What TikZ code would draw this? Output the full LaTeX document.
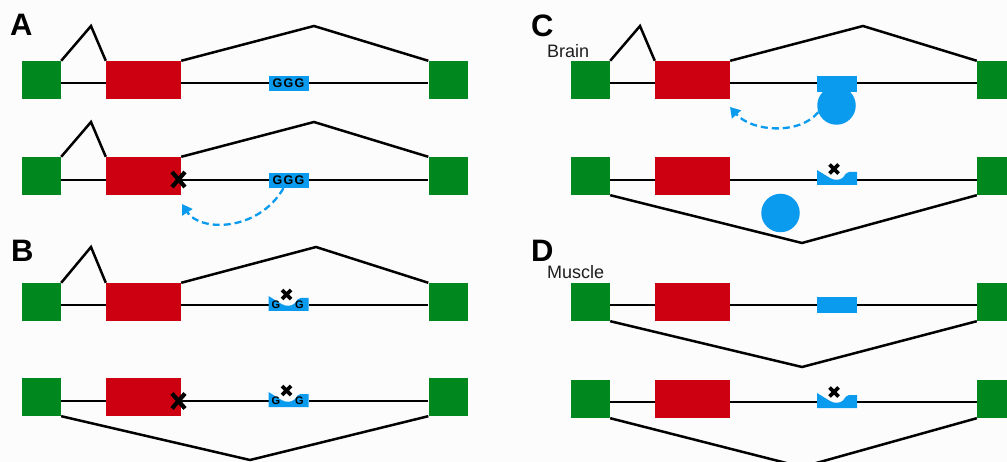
\documentclass[tikz,border=0pt]{standalone}
\usepackage{fontspec}
\setsansfont{Liberation Sans}
\usetikzlibrary{arrows.meta}
\definecolor{exg}{RGB}{0,135,30}
\definecolor{exr}{RGB}{204,0,16}
\definecolor{exb}{RGB}{10,155,238}
\definecolor{bgc}{RGB}{252,252,252}
\definecolor{txt}{RGB}{30,30,30}
\tikzset{
  gex/.style={rectangle, fill=exg, inner sep=0pt, minimum width=39pt, minimum height=38pt},
  rex/.style={rectangle, fill=exr, inner sep=0pt, minimum width=75pt, minimum height=38pt},
  intr/.style={draw=black, line width=2.5pt},
  spl/.style={draw=black, line width=2.5pt, line join=miter},
  bbox/.style={rectangle, fill=exb, inner sep=0pt, minimum width=40pt, minimum height=15pt},
  ggg/.style={font=\sffamily\bfseries\fontsize{12.5}{12.5}\selectfont, text=black},
  sg/.style={font=\sffamily\bfseries\fontsize{11}{11}\selectfont, text=black, inner sep=0pt},
  bcirc/.style={circle, fill=exb, inner sep=0pt, minimum size=38.5pt},
  arr/.style={draw=exb, line width=2.3pt, dash pattern=on 7pt off 4pt,
     -{Triangle[length=10pt,width=12pt]}},
  plab/.style={font=\sffamily\bfseries\fontsize{31}{31}\selectfont, inner sep=0pt, anchor=base west},
  tlab/.style={font=\sffamily\fontsize{18}{18}\selectfont, text=txt, inner sep=0pt, anchor=base west},
  bigx/.pic={\draw[line width=4.2pt] (-6.5,-7.5) -- (6.5,7.5) (-6.5,7.5) -- (6.5,-7.5);},
  smallx/.pic={\draw[white,line width=6pt] (-4.5,-4.5) -- (4.5,4.5) (-4.5,4.5) -- (4.5,-4.5);
               \draw[line width=3.8pt] (-4.5,-4.5) -- (4.5,4.5) (-4.5,4.5) -- (4.5,-4.5);},
  notchshape/.pic={\fill[bgc] (-20,0) rectangle (20,15);
               \fill[exb] (-20,15) -- (-20,0) -- (-7,8)
               .. controls (-3,10.5) and (3,10.5) .. (6,7.5) -- (9,3.5) -- (12,2) -- (20,2) -- (20,15) -- cycle;}
}
\begin{document}
\begin{tikzpicture}[x=1pt,y=-1pt]
\useasboundingbox (0,0) rectangle (1007,462);
\fill[bgc] (0,0) rectangle (1007,462);
\clip (0,0) rectangle (1007,462);

% ---------------- Panel A ----------------
\node[plab] (labA) at (10,36) {A};
% row A1
\node[gex] (a1g1) at (41.5,80) {};
\node[rex] (a1r) at (143.5,80) {};
\node[gex] (a1g2) at (448,80) {};
\coordinate (a1y) at (0,83);
\draw[intr] (a1g1.east |- a1y) -- (a1r.west |- a1y);
\draw[intr] (a1r.east |- a1y) -- (a1g2.west |- a1y);
\node[bbox, ggg] (a1b) at (288.5,83.5) {G\hspace{1.2pt}G\hspace{1.2pt}G};
\draw[spl] (a1g1.north east) -- (91,26) -- (a1r.north west);
\draw[spl] (a1r.north east) -- (314,26) -- (a1g2.north west);
% row A2
\node[gex] (a2g1) at (41.5,176) {};
\node[rex] (a2r) at (143.5,176) {};
\node[gex] (a2g2) at (448,176) {};
\coordinate (a2y) at (0,180);
\draw[intr] (a2g1.east |- a2y) -- (a2r.west |- a2y);
\draw[intr] (a2r.east |- a2y) -- (a2g2.west |- a2y);
\node[bbox, ggg] (a2b) at (288.5,180.5) {G\hspace{1.2pt}G\hspace{1.2pt}G};
\draw[spl] (a2g1.north east) -- (91,122) -- (a2r.north west);
\draw[spl] (a2r.north east) -- (314,122) -- (a2g2.north west);
\pic at (178.5,179.5) {bigx};
\coordinate (a2t) at (182,204);
\draw[arr] ([xshift=-5pt]a2b.south) .. controls (258,232) and (200,232) .. (a2t);

% ---------------- Panel B ----------------
\node[plab] (labB) at (11,262) {B};
% row B1
\node[gex] (b1g1) at (41.5,302) {};
\node[rex] (b1r) at (143.5,302) {};
\node[gex] (b1g2) at (448,302) {};
\coordinate (b1y) at (0,305);
\draw[intr] (b1g1.east |- b1y) -- (b1r.west |- b1y);
\draw[intr] (b1r.east |- b1y) -- (b1g2.west |- b1y);
\draw[spl] (b1g1.north east) -- (91,247) -- (b1r.north west);
\draw[spl] (b1r.north east) -- (316,247) -- (b1g2.north west);
\pic at (288.5,296) {notchshape};
\node[sg] (b1gl) at (276,304.5) {G};
\node[sg] (b1gr) at (299.5,304.5) {G};
\pic at (286.5,294.5) {smallx};
% row B2
\node[gex] (b2g1) at (41.5,397) {};
\node[rex] (b2r) at (143.5,397) {};
\node[gex] (b2g2) at (448,397) {};
\coordinate (b2y) at (0,401);
\draw[intr] (b2g1.east |- b2y) -- (b2r.west |- b2y);
\draw[intr] (b2r.east |- b2y) -- (b2g2.west |- b2y);
\draw[spl] (b2g1.south east) -- (250,460) -- (b2g2.south west);
\pic at (178.5,401) {bigx};
\pic at (288.5,392) {notchshape};
\node[sg] (b2gl) at (276,400.5) {G};
\node[sg] (b2gr) at (299.5,400.5) {G};
\pic at (286.5,390.5) {smallx};

% ---------------- Panel C ----------------
\node[plab] (labC) at (531,37) {C};
\node[tlab] (brain) at (547,58) {Brain};
% row C1
\node[gex] (c1g1) at (590.5,80) {};
\node[rex] (c1r) at (692.5,80) {};
\node[gex] (c1g2) at (996.5,80) {};
\coordinate (c1y) at (0,83);
\draw[intr] (c1g1.east |- c1y) -- (c1r.west |- c1y);
\draw[intr] (c1r.east |- c1y) -- (c1g2.west |- c1y);
\draw[spl] (c1g1.north east) -- (640,26) -- (c1r.north west);
\draw[spl] (c1r.north east) -- (863,26) -- (c1g2.north west);
\node[bbox, minimum height=16pt] (c1b) at (837,84) {};
\node[bcirc] (c1c) at (836.5,105.5) {};
\coordinate (c1t) at (730,107);
\draw[arr] (c1c.200) .. controls (800,135) and (752,132) .. (c1t);
% row C2
\node[gex] (c2g1) at (590.5,176) {};
\node[rex] (c2r) at (692.5,176) {};
\node[gex] (c2g2) at (996.5,176) {};
\coordinate (c2y) at (0,180);
\draw[intr] (c2g1.east |- c2y) -- (c2r.west |- c2y);
\draw[intr] (c2r.east |- c2y) -- (c2g2.west |- c2y);
\draw[spl] (c2g1.south east) -- (802,243) -- (c2g2.south west);
\pic at (837,170) {notchshape};
\pic at (834,169) {smallx};
\node[bcirc] (c2c) at (780.5,213) {};

% ---------------- Panel D ----------------
\node[plab] (labD) at (531,262) {D};
\node[tlab] (muscle) at (547,279) {Muscle};
% row D1
\node[gex] (d1g1) at (590.5,302) {};
\node[rex] (d1r) at (692.5,302) {};
\node[gex] (d1g2) at (996.5,302) {};
\coordinate (d1y) at (0,305);
\draw[intr] (d1g1.east |- d1y) -- (d1r.west |- d1y);
\draw[intr] (d1r.east |- d1y) -- (d1g2.west |- d1y);
\node[bbox, minimum height=16pt] (d1b) at (837,305) {};
\draw[spl] (d1g1.south east) -- (802,367) -- (d1g2.south west);
% row D2
\node[gex] (d2g1) at (590.5,399) {};
\node[rex] (d2r) at (692.5,399) {};
\node[gex] (d2g2) at (996.5,399) {};
\coordinate (d2y) at (0,402);
\draw[intr] (d2g1.east |- d2y) -- (d2r.west |- d2y);
\draw[intr] (d2r.east |- d2y) -- (d2g2.west |- d2y);
\draw[spl] (d2g1.south east) -- (802,467) -- (d2g2.south west);
\pic at (837,393) {notchshape};
\pic at (834,392) {smallx};
\end{tikzpicture}
\end{document}
